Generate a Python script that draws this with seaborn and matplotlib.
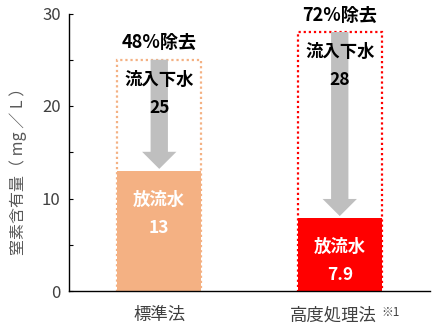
import matplotlib
matplotlib.use("Agg")
import matplotlib.pyplot as plt
import matplotlib.transforms as mtransforms
import seaborn as sns
from matplotlib.patches import Polygon
from matplotlib.ticker import MultipleLocator

categories = ["標準法", "高度処理法"]
influent = [25, 28]
effluent = [13, 7.9]
effluent_labels = ["13", "7.9"]
influent_labels = ["25", "28"]
removal = [48, 72]
fill_colors = ["#F4B183", "#FF0000"]
y_ticks = [0, 10, 20, 30]

sns.set_theme(style="white")
plt.rcParams['font.family'] = ['Noto Sans CJK JP', 'DejaVu Sans']

fig = plt.figure(figsize=(4.4, 3.3), dpi=100)
ax = fig.add_axes([69/440, 1-291/330, 361/440, 277.5/330])

# influent (dotted outline) boxes
sns.barplot(x=categories, y=influent, hue=categories, palette=fill_colors,
            fill=False, width=0.465, linewidth=1.6, linestyle=(0, (1, 1.3)),
            legend=False, saturation=1, ax=ax, zorder=1)
# effluent filled bars
sns.barplot(x=categories, y=effluent, hue=categories, palette=fill_colors,
            width=0.465, linewidth=0, legend=False, saturation=1, ax=ax, zorder=2)

# arrows
shaft_hw = 0.048
head_hw = 0.095
head_len = 1.85
for i, (top, bot) in enumerate(zip(influent, effluent)):
    tip = bot + 0.2
    neck = tip + head_len
    pts = [(i - shaft_hw, top), (i + shaft_hw, top), (i + shaft_hw, neck),
           (i + head_hw, neck), (i, tip), (i - head_hw, neck), (i - shaft_hw, neck)]
    ax.add_patch(Polygon(pts, closed=True, facecolor="#BFBFBF", edgecolor="none", zorder=3))

# labels
for i in range(len(categories)):
    ax.annotate(f"{removal[i]}%除去", (i, influent[i]), xytext=(0, 12.3),
                textcoords="offset points", ha="center", va="center",
                fontsize=13, fontweight="bold", color="#000000", zorder=5)
    ax.annotate("流入下水", (i, influent[i]), xytext=(0, -14.4),
                textcoords="offset points", ha="center", va="center",
                fontsize=12.5, fontweight="bold", color="#000000", zorder=5)
    ax.annotate(influent_labels[i], (i, influent[i]), xytext=(0, -34.6),
                textcoords="offset points", ha="center", va="center",
                fontsize=12.5, fontweight="bold", color="#000000", zorder=5)
    ax.annotate("放流水", (i, effluent[i]), xytext=(0, -21.2),
                textcoords="offset points", ha="center", va="center",
                fontsize=12.5, fontweight="bold", color="white", zorder=5)
    ax.annotate(effluent_labels[i], (i, effluent[i]), xytext=(0, -41.4),
                textcoords="offset points", ha="center", va="center",
                fontsize=12.5, fontweight="bold", color="white", zorder=5)

ax.set_xlim(-0.5, 1.5)
ax.set_ylim(0, 30)
ax.set_yticks(y_ticks)
ax.yaxis.set_minor_locator(MultipleLocator(5))
ax.tick_params(axis="y", which="both", direction="in", length=3, width=0.8,
               color="#000000", labelsize=12, labelcolor="#404040", pad=6, left=True)
ax.tick_params(axis="x", length=0, labelsize=12.5, labelcolor="#404040", pad=11)
ax.set_xticks(range(len(categories)))
ax.set_xticklabels(categories)
ax.set_xlabel("")
# shift second category label slightly left to leave room for the note mark
lbl = ax.get_xticklabels()[1]
lbl.set_transform(lbl.get_transform() + mtransforms.ScaledTranslation(-0.06, 0, fig.dpi_scale_trans))
for s in ["top", "right"]:
    ax.spines[s].set_visible(False)
for s in ["left", "bottom"]:
    ax.spines[s].set_color("#000000")
    ax.spines[s].set_linewidth(1.0)

ax.set_ylabel("窒素含有量（ mg ／ L ）", fontsize=11.5, color="#595959", va="center")
ax.yaxis.set_label_coords((18.5 - 69) / 361, (291 - 167) / 277.5)

fig.text(381/440, 1 - 313/330, "※1", fontsize=8.5, color="#404040", ha="left", va="center")

fig.savefig("out.png", dpi=100)
